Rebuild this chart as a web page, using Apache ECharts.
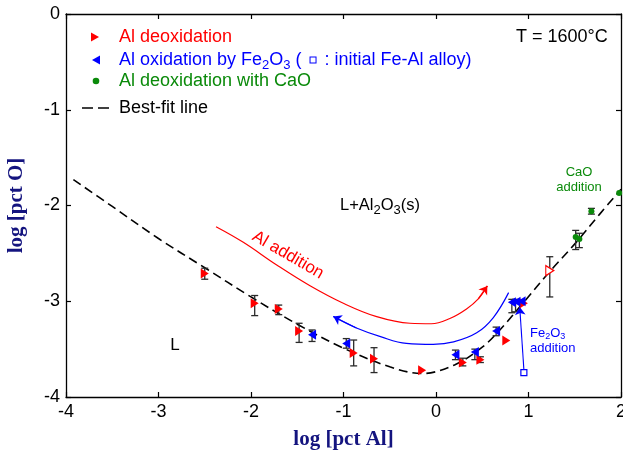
<!DOCTYPE html>
<html>
<head>
<meta charset="utf-8">
<script src="https://cdn.jsdelivr.net/npm/echarts@6/dist/echarts.min.js"></script>
<style>
  html, body { margin: 0; padding: 0; background: #fff; }
  #chart { width: 623px; height: 453px; }
</style>
</head>
<body>
<div id="chart"></div>
<script>
// Axis ranges: log [pct Al] and log [pct O]
const xRange = [-4, 2];
const yRange = [-4, 0];

// Al deoxidation: [log pct Al, log pct O]
const deox = [
  [-2.50, -2.71], [-1.96, -3.02], [-1.70, -3.08], [-1.48, -3.31],
  [-0.89, -3.54], [-0.67, -3.60], [-0.15, -3.72], [0.29, -3.64],
  [0.48, -3.61], [0.76, -3.41], [0.95, -3.02]
];
const deoxOpen = [[1.23, -2.68]];
// error bars: [x, upper, lower]
const deoxBars = [
  [-2.50, -2.655, -2.77], [-1.96, -2.94, -3.15], [-1.70, -3.04, -3.14],
  [-1.48, -3.23, -3.43], [-0.89, -3.405, -3.675], [-0.67, -3.485, -3.745],
  [0.29, -3.595, -3.675], [0.48, -3.58, -3.64], [1.23, -2.535, -2.955]
];

// Al oxidation by Fe2O3
const oxid = [
  [-1.34, -3.35], [-0.97, -3.44], [0.21, -3.56], [0.42, -3.53],
  [0.65, -3.31], [0.82, -3.01], [0.87, -3.005], [0.925, -3.00]
];
const oxidInitial = [[0.95, -3.745]];
const oxidBars = [
  [-1.34, -3.30, -3.42], [-0.97, -3.39, -3.49], [0.21, -3.51, -3.61],
  [0.42, -3.50, -3.61], [0.65, -3.27, -3.36], [0.82, -2.98, -3.12],
  [0.86, -2.98, -3.11]
];

// Al deoxidation with CaO
const withCaO = [[1.51, -2.33], [1.55, -2.35], [1.68, -2.06], [1.98, -1.87]];
const withCaOBars = [[1.51, -2.26, -2.46], [1.55, -2.29, -2.44], [1.68, -2.03, -2.09]];

// Best-fit line
const bestFit = [
  [-3.92, -1.73], [-3.5, -2.01], [-3.0, -2.345], [-2.5, -2.65], [-2.0, -2.955],
  [-1.5, -3.24], [-1.0, -3.49], [-0.5, -3.685], [-0.15, -3.755], [0.2, -3.665],
  [0.5, -3.48], [0.7, -3.29], [0.94, -3.02], [1.23, -2.69], [1.52, -2.38],
  [1.77, -2.09], [2.0, -1.83]
];

// Guide arrows
const alAdditionPath = [
  [-2.378, -2.221], [-2.083, -2.384], [-1.722, -2.621], [-1.362, -2.838],
  [-1.002, -3.021], [-0.641, -3.161], [-0.281, -3.230], [-0.05, -3.235],
  [0.15, -3.18], [0.33, -3.08], [0.457, -2.975], [0.555, -2.84]
];
const fe2o3Path = [
  [0.785, -2.91], [0.62, -3.17], [0.44, -3.33], [0.19, -3.425], [-0.03, -3.45],
  [-0.32, -3.44], [-0.60, -3.37], [-0.86, -3.28], [-1.11, -3.16]
];
const fe2o3AdditionArrow = [[0.95, -3.712], [0.905, -3.06]];

const RED = '#ff0000';
const BLUE = '#0000ff';
const GREEN = '#0a8a0a';
const NAVY = '#14147f';
const TRI_RIGHT = 'path://M0,0L10,5L0,10Z';
const TRI_LEFT = 'path://M10,0L0,5L10,10Z';

function errorBarSeries(data) {
  return {
    type: 'custom',
    data: data,
    encode: { x: 0, y: [1, 2] },
    z: 2,
    silent: true,
    renderItem: function (params, api) {
      const x = api.value(0);
      const a = api.coord([x, api.value(1)]);
      const b = api.coord([x, api.value(2)]);
      const w = 3.5;
      const st = { stroke: '#2a2a2a', lineWidth: 1.3 };
      return {
        type: 'group',
        children: [
          { type: 'line', shape: { x1: a[0], y1: a[1], x2: b[0], y2: b[1] }, style: st },
          { type: 'line', shape: { x1: a[0] - w, y1: a[1], x2: a[0] + w, y2: a[1] }, style: st },
          { type: 'line', shape: { x1: b[0] - w, y1: b[1], x2: b[0] + w, y2: b[1] }, style: st }
        ]
      };
    }
  };
}

function arrowHead(path, color) {
  const n = path.length;
  return {
    type: 'lines',
    coordinateSystem: 'cartesian2d',
    data: [{ coords: [path[n - 2], path[n - 1]] }],
    symbol: ['none', 'arrow'],
    symbolSize: [6, 8],
    lineStyle: { color: color, width: 1.2, opacity: 1 },
    silent: true,
    z: 3
  };
}

const subStyle = (color) => ({ fontSize: 13, padding: [10, 0, 0, 0], fill: color, fontFamily: 'Liberation Sans' });

const chart = echarts.init(document.getElementById('chart'), null, { renderer: 'canvas' });

const axisCommon = {
  type: 'value',
  interval: 1,
  axisLine: { onZero: false, lineStyle: { color: '#000', width: 1.3 } },
  axisTick: { inside: true, length: 5, lineStyle: { color: '#000', width: 1.2 } },
  splitLine: { show: false }
};

chart.setOption({
  animation: false,
  textStyle: { fontFamily: 'Liberation Sans' },
  grid: { left: 66, right: 2, top: 14, bottom: 56, containLabel: false, outerBoundsMode: 'none' },
  xAxis: [
    Object.assign({}, axisCommon, {
      min: xRange[0], max: xRange[1], position: 'bottom',
      axisLabel: { fontSize: 18, color: '#000', margin: 6 },
      name: 'log [pct Al]', nameLocation: 'middle', nameGap: 32,
      nameTextStyle: { fontFamily: 'Liberation Serif', fontWeight: 'bold', fontSize: 21, color: NAVY }
    }),
    Object.assign({}, axisCommon, {
      min: xRange[0], max: xRange[1], position: 'top', axisLabel: { show: false }
    })
  ],
  yAxis: [
    Object.assign({}, axisCommon, {
      min: yRange[0], max: yRange[1], position: 'left',
      axisLabel: { fontSize: 18, color: '#000', margin: 6 },
      name: 'log [pct O]', nameLocation: 'middle', nameGap: 39,
      nameTextStyle: { fontFamily: 'Liberation Serif', fontWeight: 'bold', fontSize: 21, color: NAVY }
    }),
    Object.assign({}, axisCommon, {
      min: yRange[0], max: yRange[1], position: 'right', axisLabel: { show: false }
    })
  ],
  series: [
    {
      type: 'line', data: bestFit, smooth: 0.35, showSymbol: false, symbol: 'none',
      lineStyle: { color: '#000', width: 1.6, type: [9, 5] }, z: 1, silent: true
    },
    {
      type: 'line', data: alAdditionPath, smooth: 0.4, showSymbol: false, symbol: 'none',
      lineStyle: { color: RED, width: 1.2 }, z: 1, silent: true
    },
    arrowHead(alAdditionPath, RED),
    {
      type: 'line', data: fe2o3Path, smooth: 0.4, showSymbol: false, symbol: 'none',
      lineStyle: { color: BLUE, width: 1.2 }, z: 1, silent: true
    },
    arrowHead(fe2o3Path, BLUE),
    {
      type: 'lines', coordinateSystem: 'cartesian2d',
      data: [{ coords: fe2o3AdditionArrow }],
      symbol: ['none', 'arrow'], symbolSize: [6, 8],
      lineStyle: { color: BLUE, width: 1.1, opacity: 1 }, silent: true, z: 3
    },
    errorBarSeries(deoxBars),
    errorBarSeries(oxidBars),
    errorBarSeries(withCaOBars),
    {
      name: 'Al deoxidation', type: 'scatter', data: deox,
      symbol: TRI_RIGHT, symbolSize: [8, 10], itemStyle: { color: RED, opacity: 1 }, z: 4
    },
    {
      type: 'scatter', data: deoxOpen,
      symbol: TRI_RIGHT, symbolSize: [8, 10],
      itemStyle: { color: '#fff', borderColor: RED, borderWidth: 1.2, opacity: 1 }, z: 4
    },
    {
      name: 'Al oxidation by Fe2O3', type: 'scatter', data: oxid,
      symbol: TRI_LEFT, symbolSize: [8, 10], itemStyle: { color: BLUE, opacity: 1 }, z: 4
    },
    {
      type: 'scatter', data: oxidInitial,
      symbol: 'rect', symbolSize: 6,
      itemStyle: { color: '#fff', borderColor: BLUE, borderWidth: 1.2, opacity: 1 }, z: 4
    },
    {
      name: 'Al deoxidation with CaO', type: 'scatter', data: withCaO,
      symbol: 'circle', symbolSize: 6, itemStyle: { color: GREEN, opacity: 1 }, z: 4
    }
  ],
  graphic: [
    // key
    { type: 'polygon', shape: { points: [[91, 32.5], [99, 37], [91, 41.5]] }, style: { fill: RED } },
    { type: 'text', x: 119, y: 37, style: { text: 'Al deoxidation', fill: RED, fontSize: 18, fontFamily: 'Liberation Sans', verticalAlign: 'middle' } },
    { type: 'polygon', shape: { points: [[100, 55.5], [92, 60], [100, 64.5]] }, style: { fill: BLUE } },
    {
      type: 'text', x: 119, y: 60,
      style: {
        text: 'Al oxidation by Fe{s|2}O{s|3} ({g|}{b|}{g|}: initial Fe-Al alloy)',
        fill: BLUE, fontSize: 18, fontFamily: 'Liberation Sans', verticalAlign: 'middle',
        rich: {
          s: subStyle(BLUE),
          g: { width: 9, height: 5 },
          b: { width: 5, height: 5, borderColor: BLUE, borderWidth: 1, backgroundColor: '#fff' }
        }
      }
    },
    { type: 'circle', shape: { cx: 96, cy: 81, r: 3.3 }, style: { fill: GREEN } },
    { type: 'text', x: 119, y: 81, style: { text: 'Al deoxidation with CaO', fill: GREEN, fontSize: 18, fontFamily: 'Liberation Sans', verticalAlign: 'middle' } },
    { type: 'line', shape: { x1: 82, y1: 108, x2: 109, y2: 108 }, style: { stroke: '#000', lineWidth: 1.6, lineDash: [11, 5] } },
    { type: 'text', x: 119, y: 108, style: { text: 'Best-fit line', fill: '#000', fontSize: 18, fontFamily: 'Liberation Sans', verticalAlign: 'middle' } },
    // annotations
    { type: 'text', x: 516, y: 37, style: { text: 'T = 1600°C', fill: '#000', fontSize: 18, fontFamily: 'Liberation Sans', verticalAlign: 'middle' } },
    {
      type: 'text', x: 340, y: 205,
      style: {
        text: 'L+Al{s|2}O{s|3}(s)', fill: '#000', fontSize: 16.5, fontFamily: 'Liberation Sans', verticalAlign: 'middle',
        rich: { s: subStyle('#000') }
      }
    },
    { type: 'text', x: 175, y: 345, style: { text: 'L', fill: '#000', fontSize: 17, fontFamily: 'Liberation Sans', align: 'center', verticalAlign: 'middle' } },
    {
      type: 'text', x: 288, y: 255, rotation: -30 * Math.PI / 180,
      style: { text: 'Al addition', fill: RED, fontSize: 17, fontFamily: 'Liberation Sans', align: 'center', verticalAlign: 'middle' }
    },
    { type: 'text', x: 579, y: 172, style: { text: 'CaO', fill: GREEN, fontSize: 13, fontFamily: 'Liberation Sans', align: 'center', verticalAlign: 'middle' } },
    { type: 'text', x: 579, y: 187, style: { text: 'addition', fill: GREEN, fontSize: 13, fontFamily: 'Liberation Sans', align: 'center', verticalAlign: 'middle' } },
    {
      type: 'text', x: 530, y: 333,
      style: {
        text: 'Fe{t|2}O{t|3}', fill: BLUE, fontSize: 13, fontFamily: 'Liberation Sans', verticalAlign: 'middle',
        rich: { t: { fontSize: 9, padding: [7, 0, 0, 0], fill: BLUE, fontFamily: 'Liberation Sans' } }
      }
    },
    { type: 'text', x: 530, y: 348, style: { text: 'addition', fill: BLUE, fontSize: 13, fontFamily: 'Liberation Sans', verticalAlign: 'middle' } }
  ]
});
</script>
</body>
</html>
